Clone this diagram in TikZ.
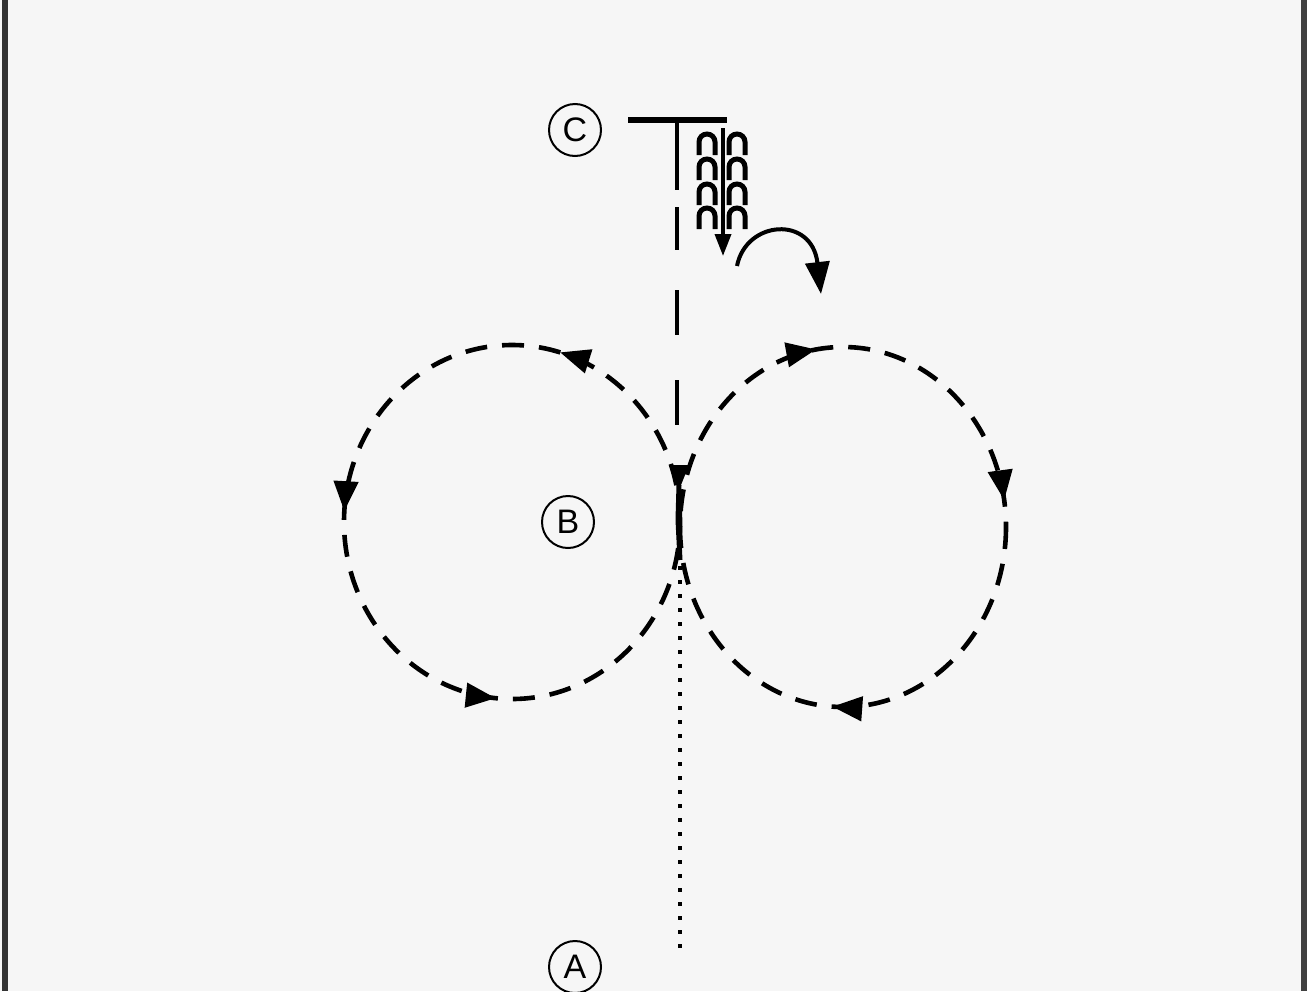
\documentclass[tikz,border=0pt]{standalone}
\usepackage{fontspec}
\setmainfont{Liberation Sans}
\usetikzlibrary{arrows.meta,decorations.markings}
\begin{document}
\begin{tikzpicture}[x=0.5pt,y=-0.5pt,
  lbl/.style={circle,draw,line width=1pt,minimum size=26pt,inner sep=0pt,font=\fontsize{17}{17}\selectfont},
  dcirc/.style={line width=2.3pt,dash pattern=on 11pt off 7.5pt},
  loopst/.style={line width=2.5pt},
]
\useasboundingbox (0,0) rectangle (1307,991);
\fill[gray!7] (0,0) rectangle (1307,991);
\fill[black!80] (2,0) rectangle (8,991);
\fill[black!75] (1301,0) rectangle (1307,991);

% labels
\node[lbl] (C) at (575,130) {C};
\node[lbl] (B) at (568,522) {B};
\node[lbl] (A) at (575,967) {A};

% T symbol
\draw[line width=2.8pt] (628,120) -- (727,120);
\draw[line width=2.2pt] (677,120) -- (677,190);
% dashed vertical
\draw[line width=2.2pt] (677,207) -- (677,250);
\draw[line width=2.2pt] (677,290) -- (677,335);
\draw[line width=2.2pt] (677,380) -- (677,425);
\fill (669,465) -- (689,465) -- (679,490) -- cycle;
\draw[line width=2.5pt] (679,485) -- (678,520) -- (680,560);
\coordinate (dtop) at (680,566);
\coordinate (dbot) at (680,952);
\draw[line width=2.2pt,dash pattern=on 2.2pt off 4.8pt] (dtop) -- (dbot);

% stitches
\foreach \cx in {707,737}{
  \foreach \ty in {133,158,183,207}{
    \draw[loopst] (\cx-8,\ty+22) -- (\cx-8,\ty+9) arc[start angle=180,end angle=360,radius=8] -- (\cx+8,\ty+22);
  }
}
\draw[line width=1.8pt,-{Triangle[length=11pt,width=8pt]}] (723,128) -- (723,256);

% curved arrow
\coordinate (ca) at (737,266);
\coordinate (cb) at (821,294);
\draw[line width=2pt,-{Triangle[length=16pt,width=12pt]}] (ca) .. controls (746,220) and (812,215) .. (cb);

% left circle (counterclockwise on screen)
\draw[dcirc,postaction={decorate},decoration={markings,
  mark=at position 0.205 with {\arrow[solid]{Triangle[length=15pt,width=12pt]}},
  mark=at position 0.49 with {\arrow[solid]{Triangle[length=15pt,width=12pt]}},
  mark=at position 0.735 with {\arrow[solid]{Triangle[length=15pt,width=12pt]}}}]
  (512,522) ++(0:168 and 177) arc[start angle=0,end angle=-360,x radius=168,y radius=177];

% right circle (clockwise on screen)
\draw[dcirc,postaction={decorate},decoration={markings,
  mark=at position 0.26 with {\arrow[solid]{Triangle[length=15pt,width=12pt]}},
  mark=at position 0.725 with {\arrow[solid]{Triangle[length=15pt,width=12pt]}},
  mark=at position 0.975 with {\arrow[solid]{Triangle[length=15pt,width=12pt]}}}]
  (843,527) ++(0:163 and 180) arc[start angle=0,end angle=360,x radius=163,y radius=180];
\end{tikzpicture}
\end{document}
